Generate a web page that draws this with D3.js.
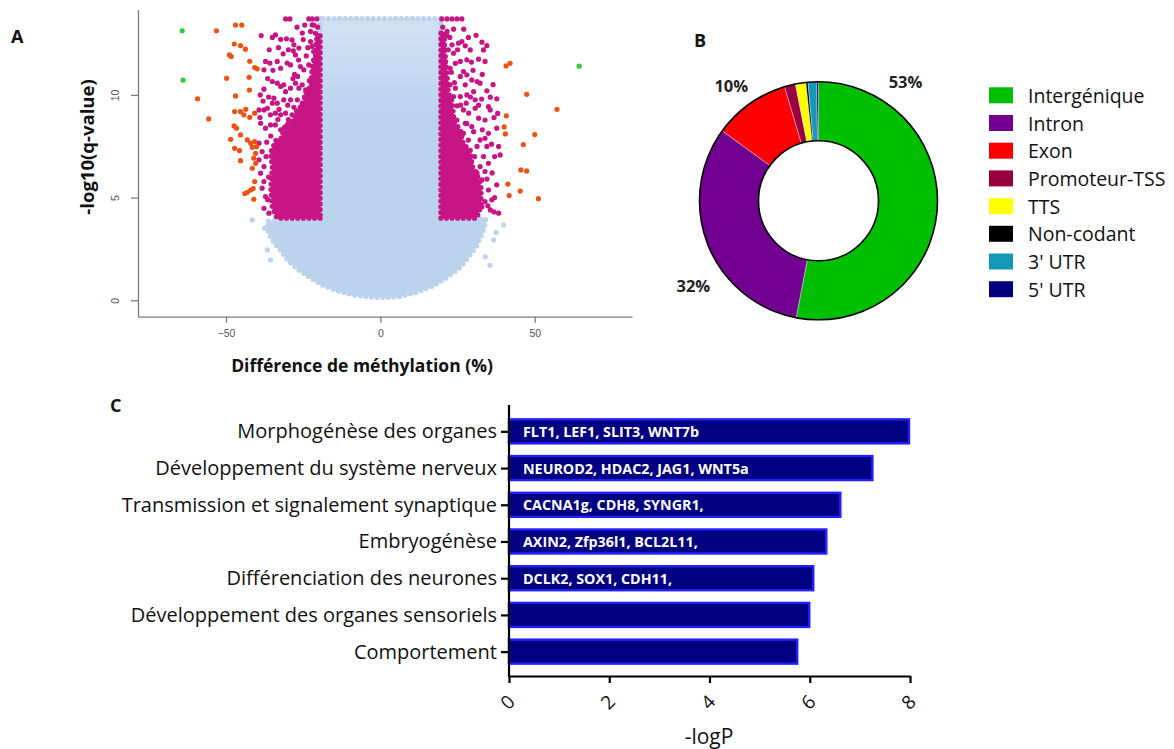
<!DOCTYPE html>
<html>
<head>
<meta charset="utf-8">
<script src="https://cdn.jsdelivr.net/npm/d3@7"></script>
<style>
  html, body { margin: 0; padding: 0; background: #fff; }
  svg { display: block; font-family: "Open Sans", sans-serif; }
</style>
</head>
<body>
<svg id="fig" width="1174" height="749"></svg>
<script>
// ---------- Panel A: volcano plot (methylation difference %, -log10 q-value) ----------
const volcanoXTicks = [-50, 0, 50];
const volcanoYTicks = [0, 5, 10];
const volcanoXDomain = [-78.5, 81.5];
const volcanoYDomain = [-0.8, 14.16];

// outline of the dense non-significant cloud
const cloudOutline = [
  [-19.6, 13.72], [-19.6, 3.95], [-36.6, 3.85], [-36.2, 3.26], [-34.6, 2.85], [-31.6, 2.29],
  [-30.0, 1.96], [-28.4, 1.72], [-25.7, 1.39], [-22.4, 1.07], [-18.7, 0.74], [-13.8, 0.45],
  [-7.4, 0.22], [-1.1, 0.13], [5.4, 0.16], [11.8, 0.39], [17.1, 0.7], [21.4, 1.1],
  [25.7, 1.58], [28.4, 2.07], [31.1, 2.64], [33.1, 3.28], [34.1, 3.83], [34.1, 3.95],
  [19.6, 3.95], [19.6, 13.72]
];
// isolated non-significant sites beyond the cloud
const cloudStragglers = [
  [-41.5, 3.91], [-36.6, 2.45], [-35.6, 1.96], [-37.5, 3.5],
  [36.7, 2.94], [34.0, 2.12], [39.9, 3.67], [35.5, 1.7], [37.5, 3.3]
];

// saturated cores of the significant clusters (|diff| >= 20, -log10 q >= 4)
const hypoCore = [
  [-19.5, 4.0], [-33.5, 4.0], [-35, 4.5], [-35.5, 5.5], [-35, 6.5], [-35.5, 7.2], [-33.8, 7.8],
  [-32, 7.9], [-31, 8.5], [-28.5, 8.7], [-27, 9.3], [-25, 9.5], [-24, 10.2], [-22.5, 10.4],
  [-22, 11.4], [-21, 11.9], [-20.8, 12.7], [-19.5, 12.9]
];
const hyperCore = [
  [19.6, 4.0], [31.2, 4.0], [32.6, 4.6], [32.6, 5.5], [31.2, 6.2], [29.8, 6.5], [29.1, 7.3],
  [26.9, 7.6], [25.9, 8.3], [23.9, 8.7], [23.2, 9.7], [22, 10.1], [21.5, 11.2], [20.9, 11.9],
  [20.7, 12.9], [19.6, 13.1]
];

// significant sites, |diff| 20-40
const hypoSites = [
  [-30.7,13.70],[-29.3,13.70],[-23.2,13.70],[-22.1,13.70],[-20.6,13.70],
  [-38.6,12.89],[-35.0,12.80],[-34.0,12.92],[-32.3,12.71],[-30.4,12.73],[-28.6,12.68],[-28.0,12.44],
  [-25.3,13.01],[-22.6,13.09],[-22.1,13.41],[-26.4,12.28],[-28.2,12.15],[-22.6,12.60],[-22.1,12.36],[-21.6,12.11],
  [-37.2,11.63],[-37.7,11.22],[-35.8,11.55],[-33.4,11.63],[-32.3,11.30],[-30.2,11.55],[-29.1,11.46],
  [-27.5,11.95],[-25.9,11.38],[-24.8,11.22],[-23.2,11.46],[-22.1,11.14],[-21.6,11.71],
  [-37.7,10.28],[-35.0,10.65],[-33.4,10.57],[-32.3,10.41],[-31.3,10.49],[-30.7,10.16],[-29.1,10.33],
  [-27.5,10.57],[-26.4,10.33],[-25.3,10.49],[-24.2,10.25],[-23.5,9.92],[-22.1,10.38],[-21.0,10.57],[-20.5,10.81],
  [-34.5,9.84],[-33.4,9.60],[-31.3,9.76],[-29.1,9.76],[-26.9,9.76],[-25.3,9.60],[-23.7,9.43],[-21.6,9.76],[-20.5,9.92],
  [-39.3,9.27],[-37.7,9.27],[-36.6,9.35],[-35.6,9.03],[-34.0,9.11],[-32.3,9.03],[-30.7,9.11],[-28.6,9.03],
  [-26.9,9.11],[-25.3,8.87],[-23.2,9.03],[-21.0,9.27],[-19.9,9.03],
  [-38.8,8.62],[-37.2,8.38],[-35.6,8.54],[-34.0,8.54],[-32.3,8.30],[-30.7,8.46],[-29.1,8.46],[-27.5,8.62],
  [-25.9,8.30],[-24.2,8.46],[-22.6,8.62],[-21.0,8.54],[-19.9,8.30],
  [-20.3,12.9],[-20.3,12.5],[-20.5,12.2],[-20.3,11.9],[-20.6,11.4],[-20.3,11.1],[-20.2,10.2],[-20.4,9.6],
  [-20.2,9.3],[-20.4,8.8],[-20.3,13.3],[-21.0,13.0],
  [-39.3,7.65],[-38.3,7.24],[-39.3,6.84],[-37.7,6.51],[-38.8,6.19],[-37.7,5.78],[-38.3,5.46],[-37.2,5.05],
  [-37.7,4.48],[-36.1,4.24],[-36.8,7.7],[-35.5,8.0],[-37.0,7.0],[-36.2,6.0],[-36.5,4.9],
  [-27.8,11.0],[-26.5,11.7],[-24.0,11.9],[-23.5,12.3],[-25.0,12.7],[-27.0,13.3],[-24.5,13.4],[-21.5,13.4],
  [-29.8,12.2],[-31.5,12.0],[-33.0,12.3],[-36.0,12.2],[-34.8,11.2],[-36.5,10.8],[-38.9,10.0],[-36.2,9.9],
  [-28.3,10.8],[-26.8,10.9],[-23.0,10.7],[-24.6,9.9],[-28.0,9.4],[-30.0,9.5],[-32.8,9.3],[-35.0,9.6],
  [-38.0,9.7],[-39.0,8.9],[-33.2,8.8],[-29.8,8.8],[-27.3,8.9],[-24.0,9.2],[-22.3,9.4]
];
const hyperSites = [
  [19.9,13.70],[21.6,13.70],[23.2,13.70],[24.8,13.70],[26.4,13.70],
  [21.6,13.09],[23.7,13.20],
  [20.5,12.28],[23.2,12.44],[25.3,12.52],[26.4,12.60],[27.5,12.39],[29.1,12.19],[32.9,12.57],[33.4,12.19],
  [31.8,11.74],[33.9,11.63],
  [21.0,11.87],[23.7,12.03],[24.3,11.54],[22.6,11.30],[21.0,11.38],[25.9,11.63],[28.0,11.71],
  [26.9,11.14],[28.0,10.98],[29.6,10.73],[31.3,10.65],[32.3,10.57],[21.0,10.65],[22.6,10.49],[25.9,10.90],
  [24.3,10.33],[27.5,10.49],
  [35.6,9.89],[37.7,9.81],[35.0,9.43],[35.6,9.27],[30.2,10.16],[30.7,9.76],[28.0,10.00],[25.9,9.92],
  [23.7,9.92],[21.6,9.92],
  [21.0,9.43],[22.6,9.19],[24.8,9.47],[26.9,9.27],[28.6,9.11],[30.7,9.35],[31.8,8.87],[33.9,8.78],
  [20.5,8.78],[24.8,8.78],[27.5,8.62],[29.6,8.46],
  [37.7,8.38],[38.3,7.49],[38.8,7.08],[35.0,8.13],[33.9,7.89],[32.3,7.81],[34.5,7.49],[31.3,7.49],
  [30.2,8.21],[26.9,8.13],[23.7,8.30],[21.0,7.97],
  [33.4,7.00],[35.0,6.67],[32.3,6.51],[31.3,6.19],[33.9,6.27],[37.7,5.62],[32.9,5.86],[35.0,5.37],
  [36.1,4.89],[33.9,4.81],[38.3,4.24],[35.6,4.40],[32.9,4.56],
  [20.2,13.3],[20.4,12.9],[20.2,12.0],[20.5,11.6],[20.2,11.1],[20.3,10.3],[21.5,12.9],[20.2,12.6],[22.0,12.2],
  [22.3,7.4],[24.0,7.1],[25.5,6.9],[27.5,7.3],[29.0,7.0],[28.5,7.8],[25.3,8.2],[22.0,8.5],[29.8,6.5],[23.0,6.8],
  [30.0,11.2],[31.0,12.9],[28.5,12.8],[34.5,12.4],[27.0,13.2],[29.5,11.6],[33.0,11.0],[36.5,10.5],
  [34.5,10.2],[32.8,9.8],[36.8,8.9],[38.0,9.1],[33.0,8.3],[36.0,7.6],[37.0,7.0],[36.2,6.2],[34.5,5.9],
  [37.0,5.0],[34.8,4.6],[36.8,4.3],[30.5,7.0],[28.0,8.6],[26.0,9.5],[24.0,10.6],[23.0,11.1],[25.0,12.2],
  [22.5,12.8],[27.8,9.6],[29.2,9.9],[31.8,9.5]
];
// strongly differential sites, |diff| 40-60
const strongSites = [
  [-53.1,13.12],[-46.9,13.40],[-44.9,13.40],[-47.3,12.48],[-45.3,12.40],[-43.7,12.23],
  [-48.9,11.95],[-48.3,11.87],[-42.3,11.64],[-40.7,11.33],[-39.9,11.27],[-49.8,10.81],[-42.5,10.86],
  [-59.2,9.81],[-46.9,9.95],[-42.4,10.24],[-55.6,8.83],
  [-47.2,9.19],[-45.3,9.19],[-43.6,9.30],[-44.2,9.03],[-42.3,8.91],[-40.7,9.11],
  [-47.4,8.49],[-46.6,8.38],[-48.5,7.84],[-45.3,8.05],[-43.1,7.81],[-42.0,7.65],[-40.7,7.73],
  [-40.1,7.48],[-41.5,7.45],[-47.2,7.40],[-45.6,7.29],[-40.4,7.16],[-41.0,6.92],[-45.3,6.80],
  [-40.4,6.67],[-41.5,6.43],[-40.7,5.78],[-42.0,5.37],[-43.1,5.26],[-41.0,4.92],[-41.2,5.44],[-43.9,5.20],
  [40.7,11.41],[42.0,11.54],[47.4,10.03],[57.2,9.30],[40.8,8.98],[40.1,8.44],[40.5,8.10],
  [50.0,8.07],[46.3,7.58],[45.5,6.35],[47.4,6.30],[41.3,5.66],[41.7,5.10],[45.3,5.32],[51.2,4.95]
];
// extreme sites, |diff| > 60
const extremeSites = [[-64.2, 13.12], [-63.9, 10.72], [64.4, 11.40]];

// ---------- Panel B: genomic annotation of the differentially methylated sites ----------
const regionNames = ["Intergénique", "Intron", "Exon", "Promoteur-TSS", "TTS", "Non-codant", "3' UTR", "5' UTR"];
const regionShares = [53, 32, 10.4, 1.5, 1.4, 0.3, 1.15, 0.25];
const regionColors = ["#00bf00", "#720091", "#ff0000", "#990040", "#ffff00", "#000000", "#1597b8", "#00007f"];
const shareLabels = ["53%", "32%", "10%"];

// ---------- Panel C: enriched biological processes ----------
const processNames = [
  "Morphogénèse des organes",
  "Développement du système nerveux",
  "Transmission et signalement synaptique",
  "Embryogénèse",
  "Différenciation des neurones",
  "Développement des organes sensoriels",
  "Comportement"
];
const processLogP = [7.98, 7.25, 6.61, 6.33, 6.07, 5.99, 5.75];
const processGenes = [
  "FLT1, LEF1, SLIT3, WNT7b",
  "NEUROD2, HDAC2, JAG1, WNT5a",
  "CACNA1g, CDH8, SYNGR1,",
  "AXIN2, Zfp36l1, BCL2L11,",
  "DCLK2, SOX1, CDH11,",
  "",
  ""
];
const logPTicks = [0, 2, 4, 6, 8];

// ======================================================================
const svg = d3.select("#fig");
const INK = "#111";
const FONT = "'Open Sans', sans-serif";

// ---------------- Panel A ----------------
const BLUE = "#bcd3ee", MAGENTA = "#c71585", ORANGE = "#ec5311", GREEN = "#32cd32";
const dotR = 2.6;
const xV = d3.scaleLinear().domain(volcanoXDomain).range([138, 632]);
const yV = d3.scaleLinear().domain(volcanoYDomain).range([316.7, 9.5]);
const gA = svg.append("g");

// the upper part of the cloud is sparser, so it reads paler
const grad = svg.append("defs").append("linearGradient").attr("id", "cloudFade")
  .attr("gradientUnits", "userSpaceOnUse").attr("x1", 0).attr("x2", 0)
  .attr("y1", yV(13.8)).attr("y2", yV(9));
grad.append("stop").attr("offset", 0).attr("stop-color", "#d3e2f4");
grad.append("stop").attr("offset", 1).attr("stop-color", BLUE);

const closed = d3.line().x(d => xV(d[0])).y(d => yV(d[1])).curve(d3.curveLinearClosed);

// a dense area: filled polygon whose rim is a chain of point-sized beads
function denseArea(outline, fill, bead) {
  gA.append("path").datum(outline).attr("d", closed).attr("fill", fill).attr("stroke", "none");
  gA.append("path").datum(outline).attr("d", closed).attr("fill", "none")
    .attr("stroke", bead).attr("stroke-width", dotR * 2)
    .attr("stroke-linecap", "round").attr("stroke-dasharray", "0 5.6");
}
function dots(data, color) {
  gA.append("g").selectAll("circle").data(data).join("circle")
    .attr("cx", d => xV(d[0])).attr("cy", d => yV(d[1])).attr("r", dotR).attr("fill", color);
}

denseArea(cloudOutline, "url(#cloudFade)", BLUE);
dots(cloudStragglers, BLUE);
denseArea(hypoCore, MAGENTA, MAGENTA);
denseArea(hyperCore, MAGENTA, MAGENTA);
dots(hypoSites, MAGENTA);
dots(hyperSites, MAGENTA);
dots(strongSites, ORANGE);
dots(extremeSites, GREEN);

const axisGrey = "#7a7a7a";
const gAx = gA.append("g").attr("transform", `translate(0,${yV.range()[0]})`)
  .call(d3.axisBottom(xV).tickValues(volcanoXTicks).tickSize(6).tickSizeOuter(0)
    .tickFormat(d => d < 0 ? "\u2212" + Math.abs(d) : String(d)));
const gAy = gA.append("g").attr("transform", `translate(${xV.range()[0]},0)`)
  .call(d3.axisLeft(yV).tickValues(volcanoYTicks).tickSize(7).tickSizeOuter(0));
[gAx, gAy].forEach(g => {
  g.select(".domain").attr("stroke", axisGrey).attr("stroke-width", 1.3);
  g.selectAll(".tick line").attr("stroke", axisGrey).attr("stroke-width", 1.3);
  g.selectAll(".tick text").attr("fill", "#555").attr("font-size", 10.5)
    .attr("font-family", "'Liberation Sans', Arial, sans-serif");
});
gAx.selectAll(".tick text").attr("y", 17).attr("dy", "0.32em");
gAy.selectAll(".tick text").attr("transform", "rotate(-90)").attr("x", 0).attr("y", -19).attr("dy", 0)
  .attr("text-anchor", "middle");

gA.append("text").attr("transform", "translate(94,147) rotate(-90)").attr("text-anchor", "middle")
  .attr("font-size", 18.5).attr("font-weight", 700).attr("fill", INK).text("-log10(q-value)");
gA.append("text").attr("x", 362).attr("y", 372).attr("text-anchor", "middle")
  .attr("font-size", 17.5).attr("font-weight", 700).attr("fill", INK).text("Différence de méthylation (%)");

// panel letters
[["A", 11, 43], ["B", 694, 47], ["C", 110, 412]].forEach(([t, x, y]) => {
  svg.append("text").attr("x", x).attr("y", y).attr("font-size", 18).attr("font-weight", 700)
    .attr("fill", INK).text(t);
});

// ---------------- Panel B ----------------
const cx = 818.5, cy = 200.8, rOut = 119, rIn = 60;
const gB = svg.append("g").attr("transform", `translate(${cx},${cy})`);
const pie = d3.pie().sort(null).value(d => d)(regionShares);
const arc = d3.arc().innerRadius(rIn).outerRadius(rOut);
gB.selectAll("path.slice").data(pie).join("path").attr("class", "slice")
  .attr("d", arc).attr("fill", (d, i) => regionColors[i])
  .attr("stroke", "#f4f4f4").attr("stroke-width", 0.4);
gB.append("circle").attr("r", rOut).attr("fill", "none").attr("stroke", "#000").attr("stroke-width", 1.6);
gB.append("circle").attr("r", rIn).attr("fill", "none").attr("stroke", "#000").attr("stroke-width", 1.6);

// share labels, placed outside the ring (angle in degrees clockwise from 12 o'clock, radius)
const labelPlacement = [[36, 148], [-124, 151], [-37, 145]];
shareLabels.forEach((t, i) => {
  const [a, r] = labelPlacement[i];
  const rad = a * Math.PI / 180;
  gB.append("text").attr("x", r * Math.sin(rad)).attr("y", -r * Math.cos(rad))
    .attr("text-anchor", "middle").attr("dominant-baseline", "central")
    .attr("font-size", 16.5).attr("font-weight", 700).attr("fill", "#222").text(t);
});

// legend
const gL = svg.append("g").attr("transform", "translate(989,95.3)");
const rowH = 27.7;
const rows = gL.selectAll("g").data(regionNames).join("g")
  .attr("transform", (d, i) => `translate(0,${i * rowH})`);
rows.append("rect").attr("x", 0).attr("y", -8).attr("width", 24).attr("height", 16)
  .attr("fill", (d, i) => regionColors[i]);
rows.append("text").attr("x", 39).attr("y", 0).attr("dominant-baseline", "central")
  .attr("font-size", 19.5).attr("fill", INK).text(d => d);

// ---------------- Panel C ----------------
const xB = d3.scaleLinear().domain([0, 8]).range([509, 910]);
const yB = d3.scalePoint().domain(processNames).range([413, 670]).padding(0.5);
const barH = 24;
const gC = svg.append("g");

gC.selectAll("rect.bar").data(processNames).join("rect").attr("class", "bar")
  .attr("x", xB(0)).attr("y", d => yB(d) - barH / 2)
  .attr("width", (d, i) => xB(processLogP[i]) - xB(0)).attr("height", barH)
  .attr("fill", "#000080").attr("stroke", "#1f1fff").attr("stroke-width", 2.4);

gC.selectAll("text.genes").data(processNames).join("text").attr("class", "genes")
  .attr("x", xB(0) + 14).attr("y", d => yB(d)).attr("dominant-baseline", "central")
  .attr("font-size", 14.3).attr("font-weight", 700).attr("fill", "#fff")
  .text((d, i) => processGenes[i]);

const gCx = gC.append("g").attr("transform", "translate(0,676)")
  .call(d3.axisBottom(xB).tickValues(logPTicks).tickSize(7).tickSizeOuter(0));
gCx.select(".domain").attr("stroke", "#000").attr("stroke-width", 2.2);
gCx.selectAll(".tick line").attr("stroke", "#000").attr("stroke-width", 2.2);
gCx.selectAll(".tick text").attr("fill", INK).attr("font-size", 19).attr("font-family", FONT)
  .attr("y", 0).attr("dy", 0).attr("text-anchor", "middle").attr("dominant-baseline", "central")
  .attr("transform", "translate(-2,26) rotate(-45)");

const gCy = gC.append("g").attr("transform", `translate(${xB(0)},0)`)
  .call(d3.axisLeft(yB).tickSize(8).tickSizeOuter(0));
gCy.select(".domain").remove();
gCy.selectAll(".tick line").attr("stroke", "#000").attr("stroke-width", 2.2);
gCy.selectAll(".tick text").attr("fill", INK).attr("font-size", 20).attr("font-family", FONT).attr("x", -12);
gC.append("line").attr("x1", xB(0)).attr("x2", xB(0)).attr("y1", 405).attr("y2", 677)
  .attr("stroke", "#000").attr("stroke-width", 2.2);

gC.append("text").attr("x", 709).attr("y", 736).attr("text-anchor", "middle").attr("dominant-baseline", "central")
  .attr("font-size", 21).attr("fill", INK).text("-logP");
</script>
</body>
</html>
